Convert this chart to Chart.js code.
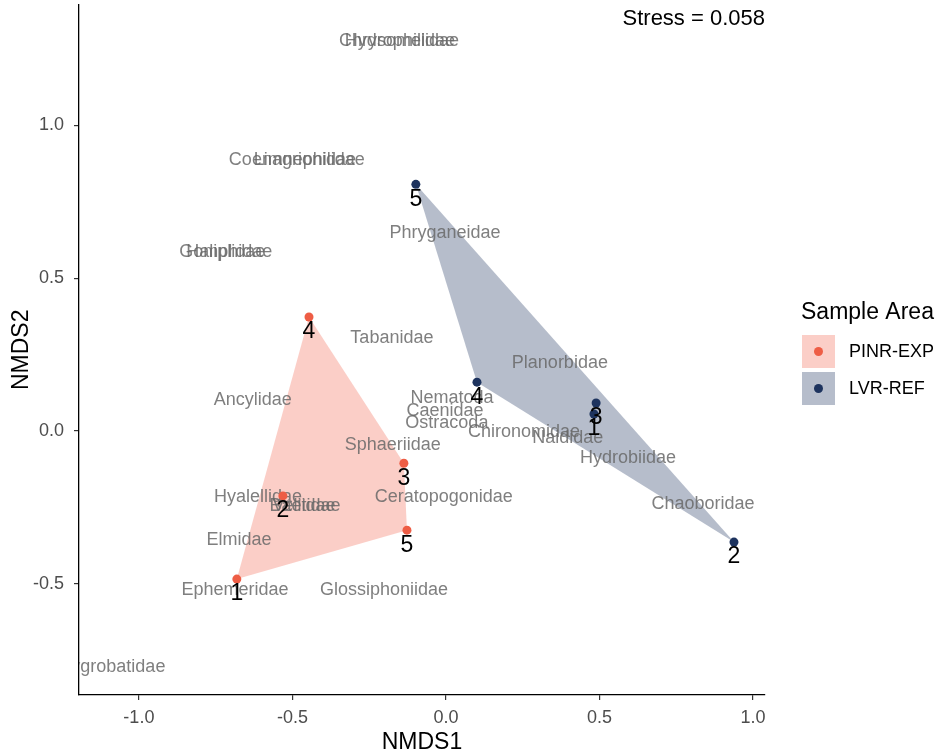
<!DOCTYPE html>
<html lang="en">
<head>
  <meta charset="UTF-8">
  <title>NMDS ordination - Sample Area</title>
  <script src="https://cdn.jsdelivr.net/npm/chart.js"></script>
  <style>
    body { margin: 0; background: #ffffff; }
    canvas { display: block; }
  </style>
</head>
<body>
  <canvas id="nmds" width="938" height="756"></canvas>

  <script>
    // Site scores (NMDS1 / NMDS2) for each sample area
    const siteLabels = ['1', '2', '3', '4', '5'];
    const pinrX = [-0.681, -0.531, -0.137, -0.446, -0.127];
    const pinrY = [-0.484, -0.212, -0.105, 0.373, -0.324];
    const lvrX = [0.482, 0.938, 0.489, 0.101, -0.098];
    const lvrY = [0.056, -0.363, 0.092, 0.160, 0.807];

    // Taxon (species) scores
    const speciesNames = [
      'Chrysomelidae', 'Hydrophilidae', 'Coenagrionidae', 'Limnephilidae',
      'Haliplidae', 'Gomphidae', 'Phryganeidae', 'Tabanidae', 'Ancylidae',
      'Planorbidae', 'Nematoda', 'Caenidae', 'Ostracoda', 'Chironomidae',
      'Naididae', 'Hydrobiidae', 'Sphaeriidae', 'Ceratopogonidae', 'Chaoboridae',
      'Hyalellidae', 'Baetidae', 'Veliidae', 'Elmidae', 'Ephemeridae',
      'Glossiphoniidae', 'Hygrobatidae'
    ];
    const speciesX = [
      -0.153, -0.150, -0.500, -0.445,
      -0.717, -0.717, -0.003, -0.176, -0.629,
      0.371, 0.020, -0.003, 0.003, 0.254,
      0.397, 0.593, -0.173, -0.007, 0.837,
      -0.612, -0.459, -0.462, -0.674, -0.687,
      -0.202, -1.088
    ];
    const speciesY = [
      1.275, 1.275, 0.886, 0.886,
      0.585, 0.585, 0.647, 0.304, 0.101,
      0.222, 0.108, 0.065, 0.026, -0.003,
      -0.023, -0.088, -0.046, -0.216, -0.239,
      -0.216, -0.245, -0.245, -0.356, -0.520,
      -0.520, -0.771
    ];

    const xTicks = [-1.0, -0.5, 0.0, 0.5, 1.0];
    const yTicks = [-0.5, 0.0, 0.5, 1.0];
    const stress = 0.058;

    const groups = [
      { name: 'PINR-EXP', xs: pinrX, ys: pinrY, color: '#EE5D45', fill: 'rgba(245, 120, 100, 0.36)' },
      { name: 'LVR-REF', xs: lvrX, ys: lvrY, color: '#1D335E', fill: 'rgba(29, 51, 94, 0.32)' }
    ];

    const FONT = '"Liberation Sans", Arial, sans-serif';

    function toPoints(xs, ys) {
      return xs.map((x, i) => ({ x: x, y: ys[i] }));
    }

    // Monotone chain convex hull, closed by repeating the first vertex
    function convexHull(pts) {
      const p = pts.slice().sort((a, b) => a.x - b.x || a.y - b.y);
      const cross = (o, a, b) => (a.x - o.x) * (b.y - o.y) - (a.y - o.y) * (b.x - o.x);
      const lower = [];
      for (const q of p) {
        while (lower.length >= 2 && cross(lower[lower.length - 2], lower[lower.length - 1], q) <= 0) lower.pop();
        lower.push(q);
      }
      const upper = [];
      for (let i = p.length - 1; i >= 0; i--) {
        const q = p[i];
        while (upper.length >= 2 && cross(upper[upper.length - 2], upper[upper.length - 1], q) <= 0) upper.pop();
        upper.push(q);
      }
      upper.pop();
      lower.pop();
      const hull = lower.concat(upper);
      hull.push(hull[0]);
      return hull;
    }

    const datasets = [];
    groups.forEach(g => {
      datasets.push({
        type: 'line',
        kind: 'hull',
        label: g.name + ' hull',
        data: convexHull(toPoints(g.xs, g.ys)),
        backgroundColor: g.fill,
        borderWidth: 0,
        pointRadius: 0,
        tension: 0,
        fill: 'shape',
        order: 3
      });
    });
    groups.forEach(g => {
      datasets.push({
        type: 'scatter',
        kind: 'site',
        label: g.name,
        data: toPoints(g.xs, g.ys),
        backgroundColor: g.color,
        borderColor: g.color,
        borderWidth: 0,
        pointRadius: 4.5,
        order: 1
      });
    });

    // Taxon names, site numbers, stress note and the legend
    const overlay = {
      id: 'overlay',
      beforeDatasetsDraw(chart) {
        chart.$speciesDone = false;
      },
      beforeDatasetDraw(chart, args) {
        if (chart.$speciesDone || chart.data.datasets[args.index].kind !== 'site') return;
        chart.$speciesDone = true;
        const { ctx, chartArea, scales } = chart;
        ctx.save();
        ctx.beginPath();
        ctx.rect(chartArea.left, chartArea.top, chartArea.right - chartArea.left, chartArea.bottom - chartArea.top);
        ctx.clip();
        ctx.font = '18px ' + FONT;
        ctx.fillStyle = 'rgba(105, 105, 105, 0.85)';
        ctx.textAlign = 'center';
        ctx.textBaseline = 'middle';
        speciesNames.forEach((name, i) => {
          ctx.fillText(name, scales.x.getPixelForValue(speciesX[i]), scales.y.getPixelForValue(speciesY[i]));
        });
        ctx.restore();
      },
      afterDatasetsDraw(chart) {
        const { ctx, scales } = chart;
        ctx.save();
        ctx.font = '23px ' + FONT;
        ctx.fillStyle = '#000000';
        ctx.textAlign = 'center';
        ctx.textBaseline = 'middle';
        groups.forEach(g => {
          g.xs.forEach((x, i) => {
            ctx.fillText(siteLabels[i], scales.x.getPixelForValue(x), scales.y.getPixelForValue(g.ys[i]) + 15);
          });
        });
        ctx.restore();
      },
      afterDraw(chart) {
        const { ctx, chartArea } = chart;
        ctx.save();
        ctx.fillStyle = '#000000';
        ctx.font = '22px ' + FONT;
        ctx.textAlign = 'right';
        ctx.textBaseline = 'middle';
        ctx.fillText('Stress = ' + stress.toFixed(3), chartArea.right, chartArea.top + 14);

        // legend
        const lx = chartArea.right + 36;
        ctx.textAlign = 'left';
        ctx.font = '23px ' + FONT;
        ctx.fillText('Sample Area', lx, 313);
        ctx.font = '18px ' + FONT;
        groups.forEach((g, i) => {
          const top = 335 + i * 37;
          ctx.fillStyle = g.fill;
          ctx.fillRect(lx + 1, top, 33, 33);
          ctx.fillStyle = g.color;
          ctx.beginPath();
          ctx.arc(lx + 17.5, top + 16.5, 4.5, 0, Math.PI * 2);
          ctx.fill();
          ctx.fillStyle = '#000000';
          ctx.fillText(g.name, lx + 48, top + 17);
        });
        ctx.restore();
      }
    };

    function axis(min, max, tickValues, title, isX) {
      return {
        type: 'linear',
        min: min,
        max: max,
        border: { display: true, color: '#000000', width: 1.3 },
        grid: { display: true, drawOnChartArea: false, drawTicks: true, tickLength: 5, color: '#333333', lineWidth: 1.2 },
        ticks: {
          color: '#4D4D4D',
          font: { family: FONT, size: 18 },
          padding: isX ? 7 : 10,
          callback: v => v.toFixed(1)
        },
        title: {
          display: true,
          text: title,
          color: '#000000',
          font: { family: FONT, size: 23 },
          padding: isX ? { top: 0, bottom: 0 } : { top: 8, bottom: 0 }
        },
        afterBuildTicks: s => { s.ticks = tickValues.map(v => ({ value: v })); },
        afterFit: s => {
          // fixed axis band sizes, no extra room for end labels
          if (isX) {
            s.height = 61;
            s.paddingLeft = 0;
            s.paddingRight = 0;
          } else {
            s.width = 79;
            s.paddingTop = 0;
            s.paddingBottom = 0;
          }
        }
      };
    }

    new Chart(document.getElementById('nmds'), {
      type: 'scatter',
      data: { datasets: datasets },
      options: {
        responsive: false,
        animation: false,
        layout: { padding: { left: 0, right: 173, top: 0, bottom: 0 } },
        plugins: {
          legend: { display: false },
          tooltip: { enabled: false }
        },
        scales: {
          x: axis(-1.195, 1.039, xTicks, 'NMDS1', true),
          y: axis(-0.863, 1.395, yTicks, 'NMDS2', false)
        }
      },
      plugins: [overlay]
    });
  </script>
</body>
</html>
